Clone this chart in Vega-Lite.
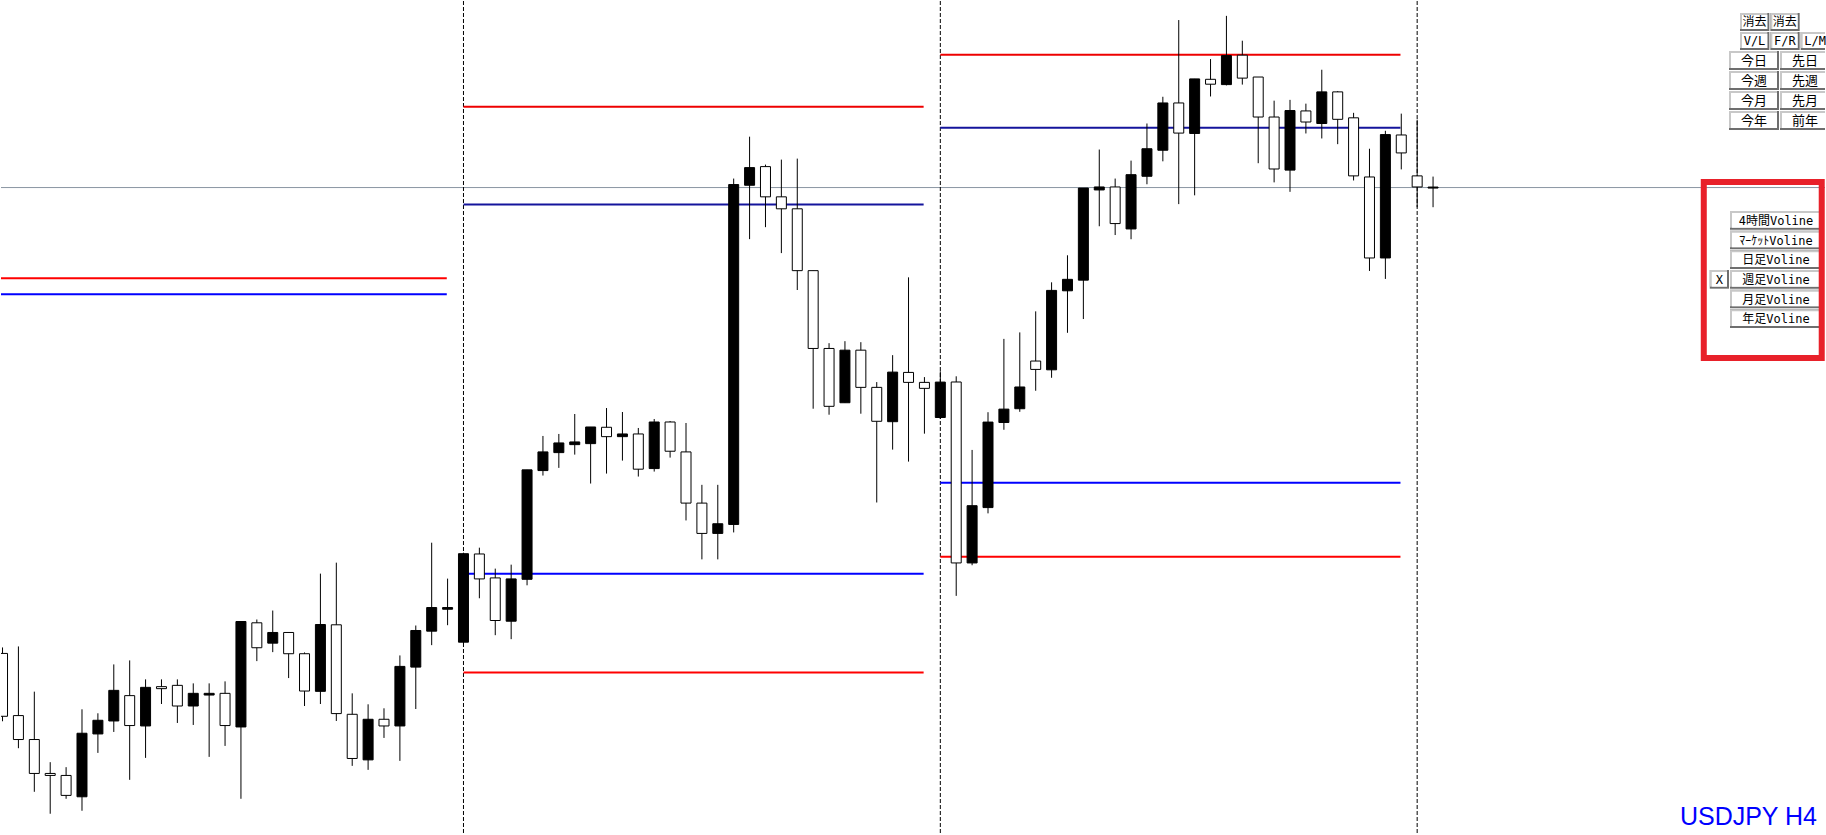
{
"$schema":"https://vega.github.io/schema/vega-lite/v6.json",
"width":1826,"height":835,
"autosize":{"type":"fit","contains":"padding"},
"padding":0,
"background":"#ffffff",
"config":{"view":{"stroke":null},"axis":{"disable":true},"legend":{"disable":true}},
"datasets":{
"candles":[
{"k":-1,"open":141.81,"high":141.87,"low":141.13,"close":141.18},
{"k":0,"open":141.187,"high":141.88,"low":140.86,"close":140.947},
{"k":1,"open":140.947,"high":141.427,"low":140.423,"close":140.607},
{"k":2,"open":140.607,"high":140.72,"low":140.203,"close":140.587},
{"k":3,"open":140.587,"high":140.67,"low":140.353,"close":140.387},
{"k":4,"open":140.373,"high":141.25,"low":140.233,"close":141.01},
{"k":5,"open":141.003,"high":141.21,"low":140.813,"close":141.14},
{"k":6,"open":141.133,"high":141.7,"low":141.023,"close":141.44},
{"k":7,"open":141.387,"high":141.74,"low":140.543,"close":141.087},
{"k":8,"open":141.083,"high":141.55,"low":140.763,"close":141.47},
{"k":9,"open":141.477,"high":141.55,"low":141.303,"close":141.457},
{"k":10,"open":141.49,"high":141.55,"low":141.113,"close":141.283},
{"k":11,"open":141.283,"high":141.51,"low":141.093,"close":141.41},
{"k":12,"open":141.393,"high":141.51,"low":140.773,"close":141.41},
{"k":13,"open":141.41,"high":141.53,"low":140.883,"close":141.087},
{"k":14,"open":141.073,"high":142.13,"low":140.353,"close":142.13},
{"k":15,"open":142.117,"high":142.15,"low":141.733,"close":141.867},
{"k":16,"open":141.913,"high":142.24,"low":141.823,"close":142.02},
{"k":17,"open":142.02,"high":142.02,"low":141.563,"close":141.807},
{"k":18,"open":141.807,"high":141.82,"low":141.283,"close":141.433},
{"k":19,"open":141.43,"high":142.61,"low":141.303,"close":142.1},
{"k":20,"open":142.097,"high":142.72,"low":141.133,"close":141.207},
{"k":21,"open":141.2,"high":141.41,"low":140.683,"close":140.757},
{"k":22,"open":140.743,"high":141.3,"low":140.643,"close":141.15},
{"k":23,"open":141.15,"high":141.26,"low":140.963,"close":141.083},
{"k":24,"open":141.083,"high":141.79,"low":140.733,"close":141.68},
{"k":25,"open":141.673,"high":142.09,"low":141.253,"close":142.04},
{"k":26,"open":142.033,"high":142.92,"low":141.893,"close":142.27},
{"k":27,"open":142.253,"high":142.56,"low":142.093,"close":142.27},
{"k":28,"open":141.923,"high":142.82,"low":141.91,"close":142.81},
{"k":29,"open":142.807,"high":142.87,"low":142.363,"close":142.557},
{"k":30,"open":142.567,"high":142.66,"low":141.993,"close":142.14},
{"k":31,"open":142.133,"high":142.7,"low":141.953,"close":142.557},
{"k":32,"open":142.553,"high":143.65,"low":142.493,"close":143.65},
{"k":33,"open":143.643,"high":143.99,"low":143.593,"close":143.83},
{"k":34,"open":143.823,"high":144.01,"low":143.67,"close":143.92},
{"k":35,"open":143.903,"high":144.21,"low":143.803,"close":143.93},
{"k":36,"open":143.913,"high":144.08,"low":143.513,"close":144.08},
{"k":37,"open":144.077,"high":144.27,"low":143.613,"close":143.983},
{"k":38,"open":143.983,"high":144.23,"low":143.743,"close":144.01},
{"k":39,"open":144.01,"high":144.07,"low":143.583,"close":143.657},
{"k":40,"open":143.663,"high":144.16,"low":143.633,"close":144.13},
{"k":41,"open":144.13,"high":144.14,"low":143.773,"close":143.837},
{"k":42,"open":143.83,"high":144.12,"low":143.143,"close":143.317},
{"k":43,"open":143.317,"high":143.5,"low":142.753,"close":143.013},
{"k":44,"open":143.013,"high":143.5,"low":142.753,"close":143.11},
{"k":45,"open":143.103,"high":146.57,"low":143.023,"close":146.51},
{"k":46,"open":146.503,"high":146.99,"low":145.963,"close":146.68},
{"k":47,"open":146.69,"high":146.71,"low":146.083,"close":146.387},
{"k":48,"open":146.387,"high":146.76,"low":145.823,"close":146.267},
{"k":49,"open":146.267,"high":146.77,"low":145.453,"close":145.647},
{"k":50,"open":145.647,"high":145.647,"low":144.263,"close":144.867},
{"k":51,"open":144.867,"high":144.92,"low":144.203,"close":144.287},
{"k":52,"open":144.323,"high":144.94,"low":144.323,"close":144.85},
{"k":53,"open":144.85,"high":144.93,"low":144.213,"close":144.477},
{"k":54,"open":144.477,"high":144.53,"low":143.323,"close":144.137},
{"k":55,"open":144.133,"high":144.8,"low":143.853,"close":144.63},
{"k":56,"open":144.627,"high":145.58,"low":143.733,"close":144.527},
{"k":57,"open":144.527,"high":144.58,"low":144.013,"close":144.467},
{"k":58,"open":144.175,"high":144.638,"low":144.16,"close":144.53},
{"k":59,"open":144.531,"high":144.588,"low":142.387,"close":142.717},
{"k":60,"open":142.717,"high":143.85,"low":142.694,"close":143.291},
{"k":61,"open":143.272,"high":144.228,"low":143.214,"close":144.129},
{"k":62,"open":144.125,"high":144.963,"low":144.052,"close":144.259},
{"k":63,"open":144.263,"high":145.028,"low":144.232,"close":144.481},
{"k":64,"open":144.741,"high":145.239,"low":144.443,"close":144.657},
{"k":65,"open":144.653,"high":145.53,"low":144.573,"close":145.449},
{"k":66,"open":145.445,"high":145.801,"low":145.024,"close":145.56},
{"k":67,"open":145.552,"high":146.475,"low":145.162,"close":146.475},
{"k":68,"open":146.456,"high":146.861,"low":146.092,"close":146.486},
{"k":69,"open":146.486,"high":146.57,"low":146.004,"close":146.119},
{"k":70,"open":146.065,"high":146.75,"low":145.962,"close":146.609},
{"k":71,"open":146.593,"high":147.122,"low":146.513,"close":146.869},
{"k":72,"open":146.854,"high":147.39,"low":146.743,"close":147.328},
{"k":73,"open":147.328,"high":148.159,"low":146.314,"close":147.026},
{"k":74,"open":147.022,"high":147.569,"low":146.402,"close":147.569},
{"k":75,"open":147.565,"high":147.768,"low":147.393,"close":147.516},
{"k":76,"open":147.512,"high":148.201,"low":147.504,"close":147.803},
{"k":77,"open":147.807,"high":147.952,"low":147.512,"close":147.577},
{"k":78,"open":147.588,"high":147.588,"low":146.724,"close":147.187},
{"k":79,"open":147.187,"high":147.351,"low":146.532,"close":146.666},
{"k":80,"open":146.655,"high":147.359,"low":146.437,"close":147.252},
{"k":81,"open":147.248,"high":147.321,"low":147.022,"close":147.137},
{"k":82,"open":147.122,"high":147.661,"low":146.972,"close":147.439},
{"k":83,"open":147.439,"high":147.447,"low":146.915,"close":147.164},
{"k":84,"open":147.179,"high":147.229,"low":146.551,"close":146.597},
{"k":85,"open":146.586,"high":146.869,"low":145.644,"close":145.774},
{"k":86,"open":145.774,"high":147.049,"low":145.564,"close":147.011},
{"k":87,"open":147.007,"high":147.221,"low":146.662,"close":146.827},
{"k":88,"open":146.597,"high":147.16,"low":146.283,"close":146.486},
{"k":89,"open":146.475,"high":146.59,"low":146.283,"close":146.485}
],
"levels":[
{"week":1,"level":"H","from":-1.5,"to":26.95,"price":145.57},
{"week":1,"level":"C","from":-1.5,"to":26.95,"price":145.41},
{"week":2,"level":"R2","from":28,"to":56.95,"price":147.29},
{"week":2,"level":"R1","from":28,"to":56.95,"price":146.31},
{"week":2,"level":"S1","from":28,"to":56.95,"price":142.61},
{"week":2,"level":"S2","from":28,"to":56.95,"price":141.62},
{"week":3,"level":"R2","from":58,"to":86.95,"price":147.81},
{"week":3,"level":"R1","from":58,"to":86.95,"price":147.08},
{"week":3,"level":"S1","from":58,"to":86.95,"price":143.52},
{"week":3,"level":"S2","from":58,"to":86.95,"price":142.78}
],
"weeks":[{"k":28},{"k":58},{"k":88}],
"bid":[{"price":146.48}],
"caption":[{"label":"USDJPY H4"}],
"topSmall":[
{"label":"消去","c0":0,"c1":1,"r0":0,"r1":1},
{"label":"消去","c0":1,"c1":2,"r0":0,"r1":1},
{"label":"V/L","c0":0,"c1":1,"r0":1,"r1":2},
{"label":"F/R","c0":1,"c1":2,"r0":1,"r1":2},
{"label":"L/M","c0":2,"c1":3,"r0":1,"r1":2}
],
"topWide":[
{"label":"今日","c0":0,"c1":1,"r0":0,"r1":1},
{"label":"先日","c0":1,"c1":2,"r0":0,"r1":1},
{"label":"今週","c0":0,"c1":1,"r0":1,"r1":2},
{"label":"先週","c0":1,"c1":2,"r0":1,"r1":2},
{"label":"今月","c0":0,"c1":1,"r0":2,"r1":3},
{"label":"先月","c0":1,"c1":2,"r0":2,"r1":3},
{"label":"今年","c0":0,"c1":1,"r0":3,"r1":4},
{"label":"前年","c0":1,"c1":2,"r0":3,"r1":4}
],
"volButtons":[
{"label":"4時間Voline","c0":0,"c1":1,"r0":0,"r1":1},
{"label":"ﾏｰｹｯﾄVoline","c0":0,"c1":1,"r0":1,"r1":2},
{"label":"日足Voline","c0":0,"c1":1,"r0":2,"r1":3},
{"label":"週足Voline","c0":0,"c1":1,"r0":3,"r1":4},
{"label":"月足Voline","c0":0,"c1":1,"r0":4,"r1":5},
{"label":"年足Voline","c0":0,"c1":1,"r0":5,"r1":6}
],
"xButton":[{"label":"X","c0":-0.22,"c1":0,"r0":3,"r1":4}],
"frame":[{"c0":-0.285,"c1":0.997,"r0":-1.475,"r1":7.475}]
},
"resolve":{"scale":{"x":"independent","y":"independent"}},
"layer":[
{
"layer":[
{"data":{"name":"bid"},"mark":{"type":"rule","stroke":"#8a96a2","strokeWidth":1},
 "encoding":{"y":{"field":"price","type":"quantitative","scale":{"domain":[140,148.35],"nice":false,"zero":false}}}},
{"data":{"name":"weeks"},"mark":{"type":"rule","stroke":"#000000","strokeWidth":1,"strokeDash":[4,2]},
 "encoding":{"x":{"field":"k","type":"quantitative","scale":{"domain":[-0.78125,113.34375],"nice":false,"zero":false}}}},
{"data":{"name":"levels"},"mark":{"type":"rule","clip":true},
 "encoding":{
  "x":{"field":"from","type":"quantitative","scale":{"domain":[-0.78125,113.34375],"nice":false,"zero":false}},
  "x2":{"field":"to"},
  "y":{"field":"price","type":"quantitative","scale":{"domain":[140,148.35],"nice":false,"zero":false}},
  "stroke":{"field":"level","type":"nominal","scale":{"domain":["H","C","R2","R1","S1","S2"],"range":["#ff0000","#0000ff","#ee0000","#14149c","#0000ff","#ff0000"]},"legend":null},
  "strokeWidth":{"field":"level","type":"nominal","scale":{"domain":["H","C","R2","R1","S1","S2"],"range":[2,2,1.3,1,1.6,1.6]},"legend":null}}},
{"data":{"name":"candles"},"mark":{"type":"rule","stroke":"#000000","strokeWidth":1,"clip":true},
 "encoding":{
  "x":{"field":"k","type":"quantitative","scale":{"domain":[-0.78125,113.34375],"nice":false,"zero":false}},
  "y":{"field":"low","type":"quantitative","scale":{"domain":[140,148.35],"nice":false,"zero":false}},
  "y2":{"field":"high"}}},
{"data":{"name":"candles"},"mark":{"type":"bar","size":10,"stroke":"#000000","strokeWidth":1,"clip":true},
 "encoding":{
  "x":{"field":"k","type":"quantitative","scale":{"domain":[-0.78125,113.34375],"nice":false,"zero":false}},
  "y":{"field":"open","type":"quantitative","scale":{"domain":[140,148.35],"nice":false,"zero":false}},
  "y2":{"field":"close"},
  "fill":{"condition":{"test":"datum.close > datum.open","value":"#000000"},"value":"#ffffff"}}},
{"data":{"name":"caption"},"mark":{"type":"text","font":"Liberation Sans","fontSize":25,"fill":"#0000ff","align":"right","baseline":"alphabetic","dx":-8,"dy":-9},
 "encoding":{"x":{"value":"width"},"y":{"value":"height"},"text":{"field":"label"}}}
]
},
{
"data":{"name":"topSmall"},
"encoding":{
 "x":{"field":"c0","type":"quantitative","scale":{"domain":[0,3],"range":[1739,1830],"nice":false,"zero":false}},
 "y":{"field":"r0","type":"quantitative","scale":{"domain":[0,2],"range":[12,50],"nice":false,"zero":false}}},
"layer":[
 {"mark":{"type":"rect","fill":"#6e6e6e","x2Offset":-1,"y2Offset":-1,"clip":true},"encoding":{"x2":{"field":"c1"},"y2":{"field":"r1"}}},
 {"mark":{"type":"rect","fill":"#c8c8c8","x2Offset":-3,"y2Offset":-3,"clip":true},"encoding":{"x2":{"field":"c1"},"y2":{"field":"r1"}}},
 {"mark":{"type":"rect","fill":"#ffffff","xOffset":2,"yOffset":2,"x2Offset":-3,"y2Offset":-3,"clip":true},"encoding":{"x2":{"field":"c1"},"y2":{"field":"r1"}}},
 {"mark":{"type":"text","font":"DejaVu Sans Mono, Noto Sans CJK JP","fontSize":12,"fill":"#000000","align":"center","baseline":"middle","dx":14.5,"dy":9},"encoding":{"text":{"field":"label"}}}
]
},
{
"data":{"name":"topWide"},
"encoding":{
 "x":{"field":"c0","type":"quantitative","scale":{"domain":[0,2],"range":[1728,1830],"nice":false,"zero":false}},
 "y":{"field":"r0","type":"quantitative","scale":{"domain":[0,4],"range":[50,130],"nice":false,"zero":false}}},
"layer":[
 {"mark":{"type":"rect","fill":"#6e6e6e","x2Offset":-1,"y2Offset":-1,"clip":true},"encoding":{"x2":{"field":"c1"},"y2":{"field":"r1"}}},
 {"mark":{"type":"rect","fill":"#c8c8c8","x2Offset":-3,"y2Offset":-3,"clip":true},"encoding":{"x2":{"field":"c1"},"y2":{"field":"r1"}}},
 {"mark":{"type":"rect","fill":"#ffffff","xOffset":2,"yOffset":2,"x2Offset":-3,"y2Offset":-3,"clip":true},"encoding":{"x2":{"field":"c1"},"y2":{"field":"r1"}}},
 {"mark":{"type":"text","font":"DejaVu Sans Mono, Noto Sans CJK JP","fontSize":13,"fill":"#000000","align":"center","baseline":"middle","dx":25,"dy":10},"encoding":{"text":{"field":"label"}}}
]
},
{
"encoding":{
 "x":{"field":"c0","type":"quantitative","scale":{"domain":[0,1],"range":[1729,1821],"nice":false,"zero":false}},
 "y":{"field":"r0","type":"quantitative","scale":{"domain":[0,6],"range":[210,328],"nice":false,"zero":false}}},
"layer":[
 {"data":{"name":"volButtons"},"mark":{"type":"rect","fill":"#6e6e6e","x2Offset":-1,"y2Offset":-1},"encoding":{"x2":{"field":"c1"},"y2":{"field":"r1"}}},
 {"data":{"name":"volButtons"},"mark":{"type":"rect","fill":"#c8c8c8","x2Offset":-3,"y2Offset":-3},"encoding":{"x2":{"field":"c1"},"y2":{"field":"r1"}}},
 {"data":{"name":"volButtons"},"mark":{"type":"rect","fill":"#ffffff","xOffset":2,"yOffset":2,"x2Offset":-3,"y2Offset":-3},"encoding":{"x2":{"field":"c1"},"y2":{"field":"r1"}}},
 {"data":{"name":"volButtons"},"mark":{"type":"text","font":"DejaVu Sans Mono, Noto Sans CJK JP","fontSize":12,"fill":"#000000","align":"center","baseline":"middle","dx":46,"dy":10},"encoding":{"text":{"field":"label"}}},
 {"data":{"name":"xButton"},"mark":{"type":"rect","fill":"#6e6e6e","x2Offset":-1,"y2Offset":-1},"encoding":{"x2":{"field":"c1"},"y2":{"field":"r1"}}},
 {"data":{"name":"xButton"},"mark":{"type":"rect","fill":"#c8c8c8","x2Offset":-3,"y2Offset":-3},"encoding":{"x2":{"field":"c1"},"y2":{"field":"r1"}}},
 {"data":{"name":"xButton"},"mark":{"type":"rect","fill":"#ffffff","xOffset":2,"yOffset":2,"x2Offset":-3,"y2Offset":-3},"encoding":{"x2":{"field":"c1"},"y2":{"field":"r1"}}},
 {"data":{"name":"xButton"},"mark":{"type":"text","font":"DejaVu Sans Mono, Noto Sans CJK JP","fontSize":12,"fill":"#000000","align":"center","baseline":"middle","dx":9.5,"dy":10},"encoding":{"text":{"field":"label"}}},
 {"data":{"name":"frame"},"mark":{"type":"rect","filled":false,"stroke":"#e8212a","strokeWidth":6},"encoding":{"x2":{"field":"c1"},"y2":{"field":"r1"}}}
]
}
]
}
